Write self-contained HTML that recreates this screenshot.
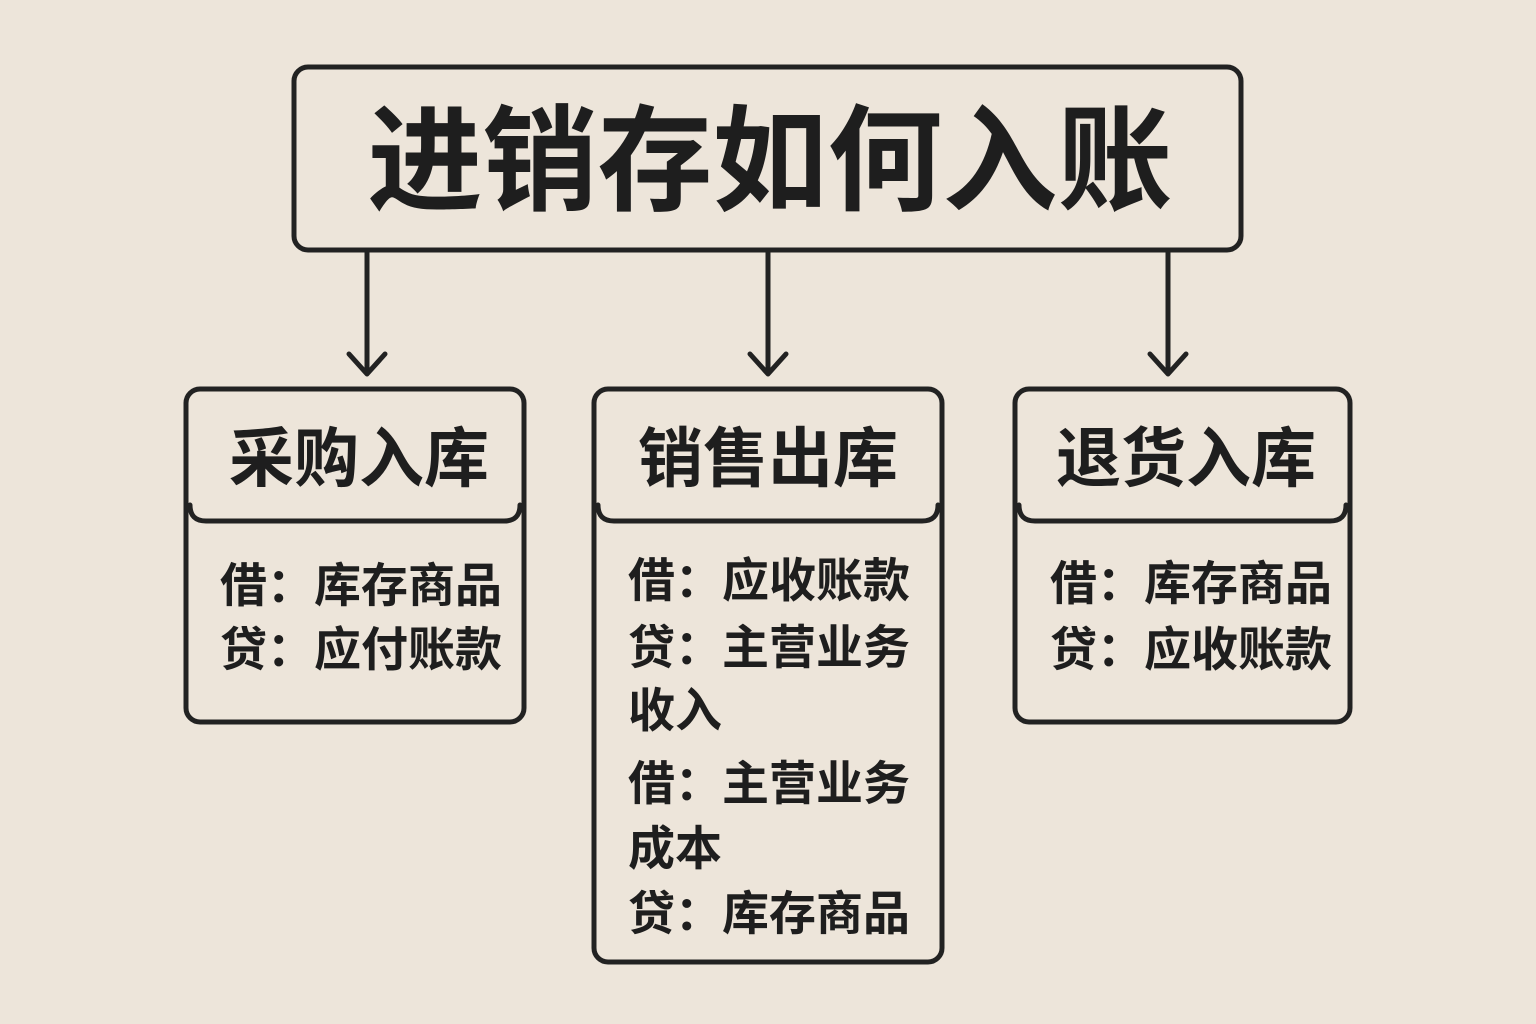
<!DOCTYPE html>
<html><head><meta charset="utf-8"><style>
html,body{margin:0;padding:0;background:#ede5da;}
svg{display:block}
text{font-family:"Liberation Sans","Noto Sans CJK SC",sans-serif;font-weight:bold;fill:#1e1e1e}
</style></head><body>
<svg width="1536" height="1024" viewBox="0 0 1536 1024" xmlns="http://www.w3.org/2000/svg">
<rect width="1536" height="1024" fill="#ede5da"/>
<g fill="none" stroke="#222" stroke-width="5" stroke-linecap="round" stroke-linejoin="round">
  <rect x="294" y="67" width="947" height="183" rx="14"/>
  <line x1="367" y1="252" x2="367" y2="373"/>
  <polyline points="349,354 367,374 385,354"/>
  <line x1="768" y1="252" x2="768" y2="373"/>
  <polyline points="750,354 768,374 786,354"/>
  <line x1="1168" y1="252" x2="1168" y2="373"/>
  <polyline points="1150,354 1168,374 1186,354"/>

  <rect x="186" y="389" width="338" height="333" rx="14"/>
  <path d="M190,505 Q190,521 206,521 L504,521 Q520,521 520,505"/>
  <rect x="594" y="389" width="348" height="573" rx="14"/>
  <path d="M598,505 Q598,521 614,521 L922,521 Q938,521 938,505"/>
  <rect x="1015" y="389" width="335" height="333" rx="14"/>
  <path d="M1019,505 Q1019,521 1035,521 L1330,521 Q1346,521 1346,505"/>
</g>
<text x="770" y="201" font-size="115" text-anchor="middle">进销存如何入账</text>
<text x="359" y="481" font-size="65" text-anchor="middle">采购入库</text>
<text x="768" y="481" font-size="65" text-anchor="middle">销售出库</text>
<text x="1186" y="481" font-size="65" text-anchor="middle">退货入库</text>
<g font-size="47">
<text x="220" y="602">借：库存商品</text>
<text x="220" y="666">贷：应付账款</text>
<text x="628" y="597">借：应收账款</text>
<text x="628" y="664">贷：主营业务</text>
<text x="628" y="727">收入</text>
<text x="628" y="800">借：主营业务</text>
<text x="628" y="865">成本</text>
<text x="628" y="930">贷：库存商品</text>
<text x="1050" y="600">借：库存商品</text>
<text x="1050" y="666">贷：应收账款</text>
</g>
</svg>
</body></html>
